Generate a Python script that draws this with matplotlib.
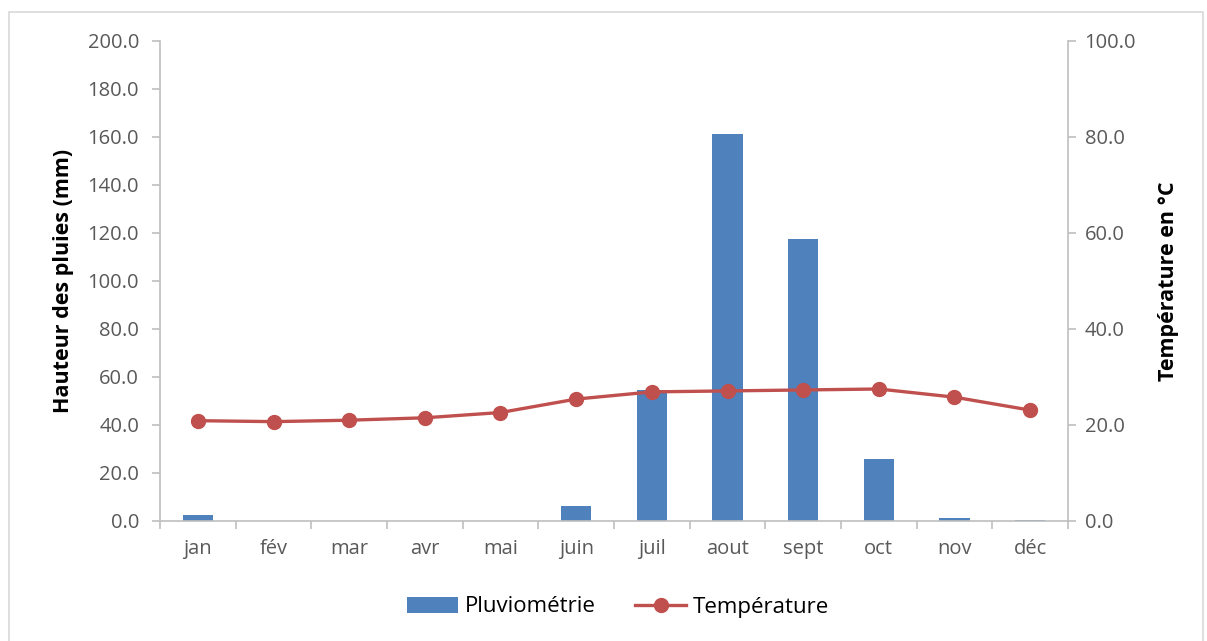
import matplotlib.pyplot as plt
from matplotlib.patches import Rectangle
import numpy as np

# monthly data
mois = ["jan", "fév", "mar", "avr", "mai", "juin", "juil", "aout", "sept", "oct", "nov", "déc"]
pluie = [2.5, 0.2, 0.0, 0.0, 0.0, 6.3, 54.5, 161.2, 117.5, 25.8, 1.4, 0.3]
temperature = [20.9, 20.7, 21.0, 21.5, 22.6, 25.4, 26.9, 27.1, 27.3, 27.5, 25.8, 23.1]

plt.rcParams["font.family"] = ["Open Sans", "DejaVu Sans"]
grey = "#bfbfbf"
txt = "#595959"

fig = plt.figure(figsize=(12.07, 6.41), dpi=100)
ax = fig.add_axes([160 / 1207, 1 - 521 / 641, 908 / 1207, 480 / 641])
ax2 = ax.twinx()

x = np.arange(len(mois))
bars = ax.bar(x, pluie, width=0.4, color="#4f81bd", label="Pluviométrie", zorder=2)
line, = ax2.plot(x, temperature, color="#c0504d", lw=2.4, marker="o", markersize=10,
                 label="Température", zorder=3)
ax.set_zorder(ax2.get_zorder() - 1)
ax.patch.set_visible(True)
ax2.patch.set_visible(False)

ax.set_xlim(-0.5, 11.5)
ax.set_ylim(0, 200)
ax2.set_ylim(0, 100)
ax.set_yticks(np.arange(0, 201, 20))
ax2.set_yticks(np.arange(0, 101, 20))
ax.yaxis.set_major_formatter(lambda v, p: f"{v:.1f}")
ax2.yaxis.set_major_formatter(lambda v, p: f"{v:.1f}")

# month labels centred, tick marks on category boundaries
ax.set_xticks(x)
ax.set_xticklabels(mois)
ax.set_xticks(np.arange(-0.5, 12, 1), minor=True)
ax.tick_params(axis="x", which="major", length=0, pad=13, labelsize=14.5, labelcolor=txt)
ax.tick_params(axis="x", which="minor", length=6, width=1.2, color=grey, direction="out")

for a in (ax, ax2):
    for s in a.spines.values():
        s.set_visible(False)
ax.spines["left"].set_visible(True)
ax.spines["bottom"].set_visible(True)
ax2.spines["right"].set_visible(True)
for s in (ax.spines["left"], ax.spines["bottom"], ax2.spines["right"]):
    s.set_color(grey)
    s.set_linewidth(1.2)

ax.tick_params(axis="y", length=6, width=1.2, color=grey, labelsize=14.5, labelcolor=txt, pad=9)
ax2.tick_params(axis="y", length=6, width=1.2, color=grey, labelsize=14.5, labelcolor=txt, pad=6)

ax.set_ylabel("Hauteur des pluies (mm)", fontsize=15.5, fontweight="bold", labelpad=10)
ax2.set_ylabel("Température en °C", fontsize=15.5, fontweight="bold", labelpad=16)

fig.legend([bars, line], ["Pluviométrie", "Température"], loc="center",
           bbox_to_anchor=(618 / 1207, 1 - 607 / 641), ncol=2, frameon=False,
           fontsize=16, handlelength=2.3, columnspacing=1.8, handletextpad=0.3)

# chart border
fig.patches.append(Rectangle((9 / 1207, -0.01), 1194 / 1207, 1.01 - 12 / 641, transform=fig.transFigure,
                             fill=False, edgecolor="#d9d9d9", lw=1.2))

fig.savefig("out.png", dpi=100)
